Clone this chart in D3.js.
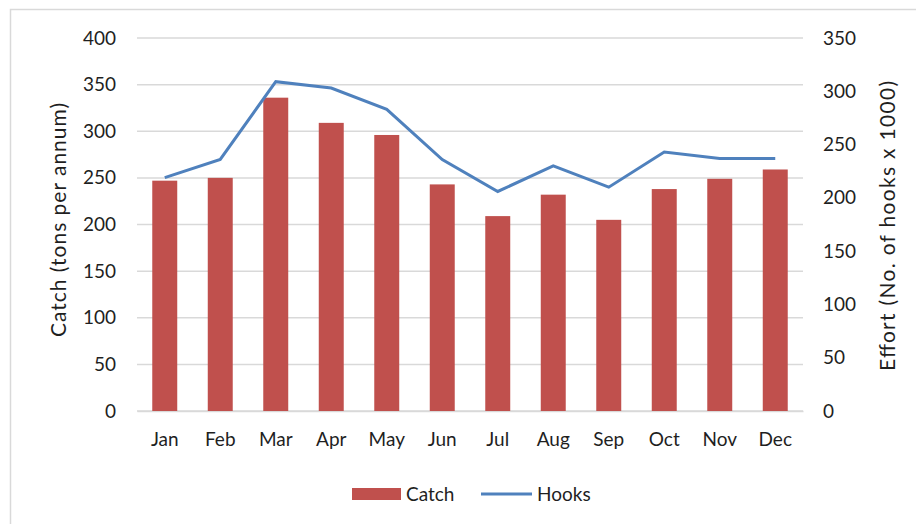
<!DOCTYPE html>
<html>
<head>
<meta charset="utf-8">
<title>Catch and Hooks by Month</title>
<style>
body { margin: 0; background: #fff; }
svg { display: block; }
.tick text, .lbl { font-family: Lato, "Open Sans", sans-serif; fill: #1f1f1f; }
</style>
</head>
<body>
<svg width="916" height="524"></svg>
<script src="https://d3js.org/d3.v7.min.js"></script>
<script>

// values
var months = ["Jan","Feb","Mar","Apr","May","Jun","Jul","Aug","Sep","Oct","Nov","Dec"];
var catchVals = [247, 250, 336, 309, 296, 243, 209, 232, 205, 238, 249, 259];
var hooksVals = [219, 236, 309, 303, 283, 236, 206, 230, 210, 243, 237, 237];
var leftTicks = [0, 50, 100, 150, 200, 250, 300, 350, 400];
var rightTicks = [0, 50, 100, 150, 200, 250, 300, 350];

var svg = d3.select("svg"),
    margin = {top: 38, right: 113, bottom: 113, left: 137},
    width = 916 - margin.left - margin.right,
    height = 524 - margin.top - margin.bottom;

// outer frame
svg.append("rect")
    .attr("x", 10.5).attr("y", 9.5)
    .attr("width", 920).attr("height", 530)
    .attr("fill", "none")
    .attr("stroke", "#d9d9d9")
    .attr("stroke-width", 1.5);

var g = svg.append("g").attr("transform", "translate(" + margin.left + "," + margin.top + ")");

var x = d3.scaleBand().domain(months).range([0, width]).paddingInner(0.55).paddingOuter(0.275);
var y = d3.scaleLinear().domain([0, 400]).range([height, 0]);
var y2 = d3.scaleLinear().domain([0, 350]).range([height, 0]);

// gridlines
g.append("g")
  .selectAll("line")
  .data(leftTicks)
  .enter().append("line")
    .attr("x1", 0).attr("x2", width)
    .attr("y1", function(d) { return y(d); })
    .attr("y2", function(d) { return y(d); })
    .attr("stroke", "#d9d9d9")
    .attr("stroke-width", 1.5);

// left axis
var ya = g.append("g")
    .call(d3.axisLeft(y).tickValues(leftTicks).tickSize(0).tickPadding(21));
ya.select(".domain").remove();
ya.selectAll("text").style("font-size", "19px");

// right axis
var yb = g.append("g")
    .attr("transform", "translate(" + width + ",0)")
    .call(d3.axisRight(y2).tickValues(rightTicks).tickSize(0).tickPadding(20));
yb.select(".domain").remove();
yb.selectAll("text").style("font-size", "19px");

// bottom axis
var xa = g.append("g")
    .attr("transform", "translate(0," + height + ")")
    .call(d3.axisBottom(x).tickSize(0).tickPadding(22));
xa.select(".domain").attr("stroke", "#d9d9d9").attr("stroke-width", 1.5);
xa.selectAll("text").style("font-size", "19px");

// bars
g.append("g")
  .selectAll("rect")
  .data(catchVals)
  .enter().append("rect")
    .attr("x", function(d, i) { return x(months[i]); })
    .attr("y", function(d) { return y(d); })
    .attr("width", x.bandwidth())
    .attr("height", function(d) { return height - y(d); })
    .attr("fill", "#c0504d");

// hooks line
var line = d3.line()
    .x(function(d, i) { return x(months[i]) + x.bandwidth() / 2; })
    .y(function(d) { return y2(d); });

g.append("path")
    .datum(hooksVals)
    .attr("d", line)
    .attr("fill", "none")
    .attr("stroke", "#4f81bd")
    .attr("stroke-width", 3);

// axis titles
svg.append("text")
    .attr("class", "lbl")
    .attr("transform", "translate(66,220) rotate(-90)")
    .attr("text-anchor", "middle")
    .attr("textLength", 234)
    .style("font-size", "21px")
    .text("Catch (tons per annum)");

svg.append("text")
    .attr("class", "lbl")
    .attr("transform", "translate(895,226) rotate(-90)")
    .attr("text-anchor", "middle")
    .attr("textLength", 290)
    .style("font-size", "21px")
    .text("Effort (No. of hooks x 1000)");

// legend
var leg = svg.append("g");
leg.append("rect")
    .attr("x", 352).attr("y", 488)
    .attr("width", 49).attr("height", 12)
    .attr("fill", "#c0504d");
leg.append("text")
    .attr("class", "lbl")
    .attr("x", 406).attr("y", 501)
    .style("font-size", "19px")
    .text("Catch");
leg.append("line")
    .attr("x1", 481).attr("x2", 532)
    .attr("y1", 494).attr("y2", 494)
    .attr("stroke", "#4f81bd")
    .attr("stroke-width", 3);
leg.append("text")
    .attr("class", "lbl")
    .attr("x", 537).attr("y", 501)
    .style("font-size", "19px")
    .text("Hooks");

</script>
</body>
</html>
